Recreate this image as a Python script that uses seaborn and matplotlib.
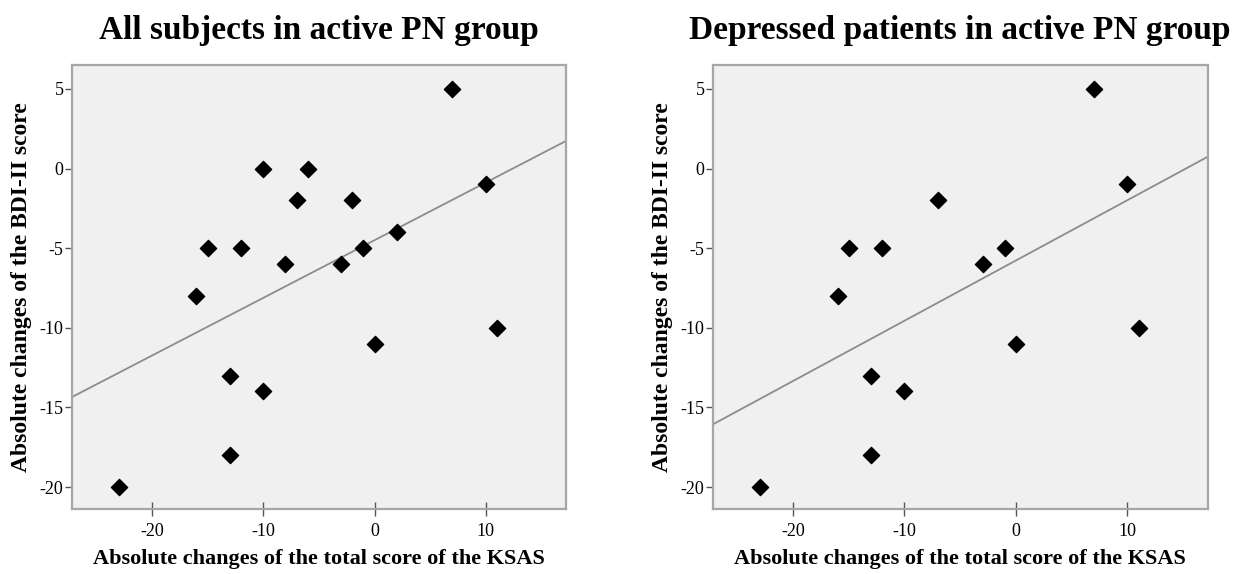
import matplotlib
matplotlib.use("Agg")
import matplotlib.pyplot as plt
import numpy as np
import pandas as pd
import seaborn as sns

# data (KSAS change vs BDI-II change)
all_ksas = [-23, -16, -15, -13, -13, -12, -10, -10, -8, -7, -6, -3, -2, -1, 0, 2, 7, 10, 11]
all_bdi = [-20, -8, -5, -13, -18, -5, 0, -14, -6, -2, 0, -6, -2, -5, -11, -4, 5, -1, -10]

dep_ksas = [-23, -16, -15, -13, -13, -12, -10, -7, -3, -1, 0, 7, 10, 11]
dep_bdi = [-20, -8, -5, -13, -18, -5, -14, -2, -6, -5, -11, 5, -1, -10]

titles = ["All subjects in active PN group", "Depressed patients in active PN group"]
x_label = "Absolute changes of the total score of the KSAS"
y_label = "Absolute changes of the BDI-II score"
x_ticks = [-20, -10, 0, 10]
y_ticks = [5, 0, -5, -10, -15, -20]

sns.set_style("ticks")
plt.rcParams["font.family"] = ["Liberation Serif", "DejaVu Serif"]
plt.rcParams["text.color"] = "black"
plt.rcParams["axes.labelcolor"] = "black"
plt.rcParams["xtick.labelcolor"] = "black"
plt.rcParams["ytick.labelcolor"] = "black"

spine_col = "#a6a6a6"
fig = plt.figure(figsize=(12.35, 5.74), dpi=100, facecolor="white")
ax_pos = [[0.0581, 0.1127, 0.4002, 0.774], [0.5771, 0.1127, 0.4008, 0.774]]

datasets = [(all_ksas, all_bdi), (dep_ksas, dep_bdi)]
for pos, (xs, ys), title in zip(ax_pos, datasets, titles):
    ax = fig.add_axes(pos)
    ax.set_facecolor("#f0f0f0")
    ax.set_xlim(-27.2, 17.2)
    ax.set_ylim(-21.4, 6.5)
    df = pd.DataFrame({"ksas": xs, "bdi": ys})
    sns.regplot(data=df, x="ksas", y="bdi", ax=ax, ci=None, truncate=False,
                marker="D",
                scatter_kws={"s": 68, "color": "black", "edgecolors": "black",
                             "alpha": 1, "zorder": 3},
                line_kws={"color": "#8c8c8c", "lw": 1.3, "zorder": 2})
    ax.set_xlim(-27.2, 17.2)
    ax.set_ylim(-21.4, 6.5)

    ax.set_xticks(x_ticks)
    ax.set_yticks(y_ticks)
    ax.set_xticklabels([str(t) for t in x_ticks])
    ax.set_yticklabels([str(t) for t in y_ticks])
    ax.tick_params(axis="x", direction="inout", length=10, width=1, color="#555555",
                   labelsize=13, pad=5)
    ax.tick_params(axis="y", direction="out", length=5, width=1, color="#555555",
                   labelsize=13, pad=1)
    for sp in ax.spines.values():
        sp.set_visible(True)
        sp.set_color(spine_col)
        sp.set_linewidth(1.6)

    ax.set_xlabel(x_label, fontsize=16, fontweight="bold", labelpad=6)
    ax.set_ylabel(y_label, fontsize=17, fontweight="bold", labelpad=5)
    ax.set_title(title, fontsize=24, fontweight="bold", pad=19)

fig.savefig("out.png", dpi=100, facecolor="white")
